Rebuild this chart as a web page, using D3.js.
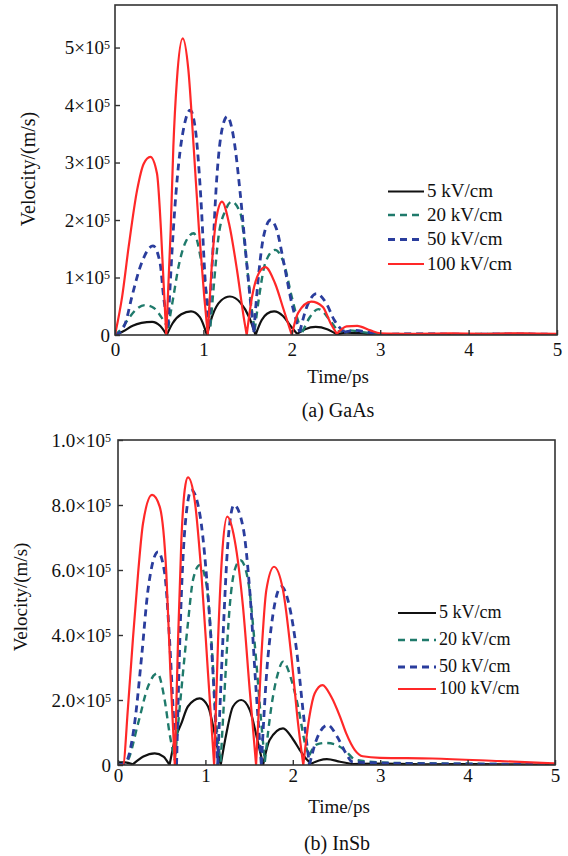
<!DOCTYPE html>
<html>
<head>
<meta charset="utf-8">
<script src="https://cdn.jsdelivr.net/npm/d3@7"></script>
<style>
  html, body { margin: 0; padding: 0; background: #fff; }
  svg { display: block; font-family: "Liberation Serif", "Times New Roman", serif; }
</style>
</head>
<body>
<svg id="fig" width="568" height="856"></svg>
<script>
// Electron drift velocity (in 10^5 m/s) versus time (ps) for four applied fields.
const fieldLabels = ["5 kV/cm", "20 kV/cm", "50 kV/cm", "100 kV/cm"];
const timeTicks = [0, 1, 2, 3, 4, 5];
const gaasYTicks = [0, 1, 2, 3, 4, 5];
const gaasYLabels = ["0", "1×10", "2×10", "3×10", "4×10", "5×10"];
const insbYTicks = [0, 2, 4, 6, 8, 10];
const insbYLabels = ["0", "2.0×10", "4.0×10", "6.0×10", "8.0×10", "1.0×10"];
const tickExponent = "5";

// GaAs: [time ps, velocity 10^5 m/s]
const gaas5 = [
  [0,0],[0.1,0.07],[0.2,0.16],[0.3,0.21],[0.42,0.23],[0.51,0.16],[0.585,0],
  [0.65,0.2],[0.75,0.36],[0.86,0.41],[0.96,0.31],[1.04,0],
  [1.1,0.33],[1.2,0.6],[1.3,0.67],[1.42,0.56],[1.52,0.3],[1.59,0],
  [1.66,0.26],[1.72,0.37],[1.8,0.41],[1.9,0.33],[1.98,0.17],[2.06,0.02],
  [2.15,0.1],[2.27,0.14],[2.4,0.1],[2.51,0.01],
  [2.62,0.04],[2.78,0.03],[2.95,0.01],[3.3,0.01],[3.7,0],[4.2,0.01],[4.6,0],[5,0.01]
];
const gaas20 = [
  [0,0],[0.08,0.12],[0.16,0.3],[0.25,0.46],[0.34,0.52],[0.44,0.47],[0.52,0.32],[0.6,0.12],
  [0.66,0.66],[0.72,1.2],[0.8,1.62],[0.89,1.77],[0.98,1.25],[1.04,0.66],[1.08,0.15],
  [1.12,0.9],[1.17,1.7],[1.25,2.17],[1.32,2.32],[1.42,2.11],[1.47,1.54],[1.53,0.66],[1.58,0.08],
  [1.63,0.66],[1.7,1.25],[1.81,1.48],[1.91,1.25],[2.0,0.66],[2.07,0.25],[2.12,0.05],
  [2.2,0.3],[2.3,0.45],[2.42,0.28],[2.52,0.06],
  [2.65,0.08],[2.8,0.05],[3.0,0.01],[3.4,0.02],[3.8,0.01],[4.3,0.02],[5,0.01]
];
const gaas50 = [
  [0,0],[0.06,0.05],[0.12,0.22],[0.19,0.66],[0.3,1.25],[0.43,1.55],[0.51,1.25],[0.55,0.66],[0.6,0.15],
  [0.66,1.83],[0.72,2.98],[0.78,3.62],[0.85,3.91],[0.91,3.57],[0.97,2.41],[1.02,0.96],[1.06,0.15],
  [1.1,1.25],[1.15,2.7],[1.21,3.57],[1.27,3.8],[1.34,3.45],[1.42,2.41],[1.49,1.25],[1.55,0.32],[1.57,0.05],
  [1.63,1.13],[1.68,1.71],[1.76,2.0],[1.83,1.83],[1.91,1.25],[2.0,0.55],[2.09,0.05],
  [2.17,0.49],[2.28,0.72],[2.39,0.55],[2.48,0.26],[2.59,0.05],
  [2.72,0.08],[2.85,0.05],[3.0,0.01],[3.5,0.02],[4.0,0.01],[4.5,0.02],[5,0.01]
];
const gaas100 = [
  [0,0],[0.08,0.66],[0.155,1.54],[0.25,2.52],[0.325,2.98],[0.4,3.1],[0.475,2.81],[0.52,1.83],[0.55,0.9],[0.58,0],
  [0.63,1.83],[0.66,3.27],[0.7,4.43],[0.766,5.16],[0.83,4.61],[0.89,3.27],[0.95,1.83],[1.01,0.66],[1.05,0],
  [1.097,1.25],[1.15,2.06],[1.21,2.32],[1.29,1.94],[1.38,1.13],[1.455,0.32],[1.49,0],
  [1.55,0.66],[1.625,1.07],[1.7,1.18],[1.81,0.9],[1.91,0.43],[2.0,0],
  [2.07,0.38],[2.22,0.58],[2.35,0.49],[2.44,0.2],[2.51,0.02],
  [2.62,0.15],[2.74,0.16],[2.89,0.08],[3.0,0.03],[3.4,0.02],[3.8,0.03],[4.2,0.02],[4.6,0.03],[5,0.02]
];

// InSb: [time ps, velocity 10^5 m/s]
const insb5 = [
  [0,0.08],[0.08,0.08],[0.17,0.02],[0.29,0.26],[0.42,0.36],[0.52,0.26],[0.59,0],
  [0.65,0.77],[0.725,1.28],[0.8,1.8],[0.935,2.05],[1.03,1.8],[1.106,0.97],[1.175,0],
  [1.24,0.97],[1.316,1.8],[1.41,2.0],[1.507,1.7],[1.595,0.77],[1.66,0],
  [1.735,0.77],[1.888,1.13],[2.0,0.8],[2.08,0.46],[2.15,0.2],[2.21,0.04],
  [2.3,0.14],[2.39,0.18],[2.54,0.1],[2.68,0.03],[3.0,0.04],[3.5,0.02],[4.0,0.03],[4.5,0.02],[5,0.01]
];
const insb20 = [
  [0,0],[0.1,0.1],[0.23,1.28],[0.343,2.41],[0.45,2.82],[0.534,2.0],[0.59,0.97],[0.65,0.15],
  [0.725,2.31],[0.8,4.36],[0.858,5.69],[0.935,6.15],[1.01,5.59],[1.068,3.85],[1.125,1.28],[1.175,0.1],
  [1.22,2.31],[1.278,4.87],[1.335,6.0],[1.4,6.3],[1.488,5.69],[1.56,3.85],[1.64,1.28],[1.68,0.1],
  [1.755,1.8],[1.83,2.82],[1.888,3.18],[1.984,2.62],[2.06,1.8],[2.15,0.56],[2.19,0.3],
  [2.27,0.63],[2.38,0.68],[2.49,0.63],[2.61,0.42],[2.71,0.17],[3.0,0.08],[3.5,0.05],[4.0,0.04],[4.5,0.03],[5,0.02]
];
const insb50 = [
  [0,0],[0.08,0.05],[0.19,1.28],[0.27,3.33],[0.343,5.38],[0.458,6.56],[0.534,5.9],[0.59,3.85],[0.64,1.28],[0.67,0],
  [0.72,4.87],[0.77,7.43],[0.84,8.46],[0.935,7.74],[1.01,5.9],[1.087,2.82],[1.14,0],
  [1.2,3.85],[1.26,6.92],[1.327,8.0],[1.43,7.33],[1.507,5.38],[1.58,2.31],[1.64,0],
  [1.716,3.33],[1.87,5.49],[1.96,4.9],[2.04,3.6],[2.12,1.6],[2.19,0],
  [2.27,0.77],[2.4,1.23],[2.51,0.86],[2.61,0.35],[2.68,0.1],[3.0,0.06],[3.5,0.04],[4.0,0.03],[4.5,0.02],[5,0.01]
];
const insb100 = [
  [0,0],[0.057,0],[0.115,1.8],[0.17,3.85],[0.23,5.9],[0.286,7.43],[0.39,8.31],[0.477,7.95],[0.553,5.9],[0.6,2.82],[0.65,0],
  [0.687,3.85],[0.725,6.92],[0.763,8.46],[0.8,8.85],[0.877,8.15],[0.954,5.9],[1.03,2.82],[1.1,0],
  [1.145,3.85],[1.19,6.41],[1.25,7.64],[1.335,6.92],[1.43,4.87],[1.507,2.31],[1.58,0],
  [1.64,3.33],[1.697,5.38],[1.785,6.1],[1.888,5.38],[1.984,3.33],[2.06,1.28],[2.12,0],
  [2.19,1.49],[2.25,2.2],[2.34,2.46],[2.44,2.1],[2.54,1.49],[2.61,0.98],[2.71,0.46],[2.8,0.27],
  [3.0,0.22],[3.6,0.2],[4.37,0.12],[5,0.05]
];

// line styles per field strength
const colors = ["#111111", "#1f7a6b", "#2a3d9d", "#ff2828"];
const widths = [2.2, 2.4, 2.8, 2.2];
const dashes = [null, "7,5", "7,5", null];
const FONT = 19;

const svg = d3.select("#fig");

// Each velocity trace is a train of arches meeting at sharp minima,
// so the trace is broken at its local minima and each arch is smoothed alone.
function splitAtMinima(pts) {
  const segs = [];
  let cur = [pts[0]];
  for (let i = 1; i < pts.length; i++) {
    cur.push(pts[i]);
    if (i < pts.length - 1 && pts[i][1] < pts[i - 1][1] && pts[i][1] < pts[i + 1][1]) {
      segs.push(cur);
      cur = [pts[i]];
    }
  }
  segs.push(cur);
  return segs;
}

function drawPanel(cfg) {
  const x = d3.scaleLinear().domain([0, 5]).range([cfg.left, cfg.right]);
  const y = d3.scaleLinear().domain([0, cfg.yMax]).range([cfg.bottom, cfg.top]);
  const g = svg.append("g");

  g.append("clipPath").attr("id", cfg.id + "-clip")
    .append("rect")
    .attr("x", cfg.left).attr("y", cfg.top)
    .attr("width", cfg.right - cfg.left).attr("height", cfg.bottom - cfg.top);

  const line = d3.line()
    .x(d => x(d[0]))
    .y(d => y(d[1]))
    .curve(d3.curveMonotoneX);

  const curves = g.append("g").attr("clip-path", `url(#${cfg.id}-clip)`);
  cfg.series.forEach((s, i) => {
    const d = splitAtMinima(s).map(seg => line(seg)).join("");
    curves.append("path")
      .attr("d", d)
      .attr("fill", "none")
      .attr("stroke", colors[i])
      .attr("stroke-width", widths[i])
      .attr("stroke-dasharray", dashes[i])
      .attr("stroke-linejoin", "round");
  });

  // x axis
  const xa = g.append("g")
    .attr("transform", `translate(0,${cfg.bottom})`)
    .call(d3.axisBottom(x).tickValues(timeTicks).tickSize(-5).tickPadding(cfg.xPad).tickFormat(d3.format("d")));
  // y axis
  const ya = g.append("g")
    .attr("transform", `translate(${cfg.left},0)`)
    .call(d3.axisLeft(y).tickValues(cfg.yTicks).tickSize(-5).tickPadding(cfg.yPad)
      .tickFormat((d, i) => cfg.yLabels[i]));
  ya.selectAll(".tick text").each(function (d, i) {
    if (cfg.yLabels[i] !== "0") {
      d3.select(this).append("tspan")
        .attr("dy", "-0.42em")
        .attr("font-size", "12px")
        .text(tickExponent);
    }
  });
  [xa, ya].forEach(a => {
    a.select(".domain").remove();
    a.selectAll(".tick line").attr("stroke", "#333").attr("stroke-width", 1.4);
    a.selectAll(".tick text")
      .attr("fill", "#111")
      .attr("font-size", FONT + "px")
      .attr("font-family", "Liberation Serif, Times New Roman, serif");
  });

  // frame
  g.append("rect")
    .attr("x", cfg.left).attr("y", cfg.top)
    .attr("width", cfg.right - cfg.left).attr("height", cfg.bottom - cfg.top)
    .attr("fill", "none").attr("stroke", "#333").attr("stroke-width", 1.6);

  // axis titles and caption
  g.append("text")
    .attr("transform", `translate(${cfg.yTitleX},${cfg.yTitleY}) rotate(-90)`)
    .attr("text-anchor", "middle")
    .attr("font-size", cfg.yTitleSize + "px")
    .attr("fill", "#111")
    .text("Velocity/(m/s)");
  g.append("text")
    .attr("x", cfg.xTitleX).attr("y", cfg.xTitleY)
    .attr("text-anchor", "middle")
    .attr("font-size", FONT + "px")
    .attr("fill", "#111")
    .text("Time/ps");
  g.append("text")
    .attr("x", cfg.capX).attr("y", cfg.capY)
    .attr("text-anchor", "middle")
    .attr("font-size", "20px")
    .attr("fill", "#111")
    .text(cfg.caption);

  // legend
  const lg = g.append("g");
  fieldLabels.forEach((lab, i) => {
    const ly = cfg.legendY[i];
    lg.append("line")
      .attr("x1", cfg.legendX1).attr("x2", cfg.legendX2)
      .attr("y1", ly).attr("y2", ly)
      .attr("stroke", colors[i])
      .attr("stroke-width", widths[i])
      .attr("stroke-dasharray", dashes[i]);
    lg.append("text")
      .attr("x", cfg.legendX2 + 3).attr("y", ly)
      .attr("dy", "0.3em")
      .attr("font-size", cfg.legendSize + "px")
      .attr("fill", "#111")
      .text(lab);
  });
}

drawPanel({
  id: "gaas", series: [gaas5, gaas20, gaas50, gaas100],
  left: 115, right: 557, top: 5, bottom: 335, yMax: 5.74,
  yTicks: gaasYTicks, yLabels: gaasYLabels, xPad: 7.5, yPad: 5,
  yTitleX: 35, yTitleY: 169, yTitleSize: 20,
  xTitleX: 338, xTitleY: 383, capX: 338, capY: 417, caption: "(a) GaAs",
  legendX1: 388, legendX2: 424, legendY: [191.5, 215, 239.5, 264], legendSize: 19
});

drawPanel({
  id: "insb", series: [insb5, insb20, insb50, insb100],
  left: 118, right: 555, top: 440, bottom: 765, yMax: 10,
  yTicks: insbYTicks, yLabels: insbYLabels, xPad: 3, yPad: 7,
  yTitleX: 27, yTitleY: 597, yTitleSize: 19,
  xTitleX: 339, xTitleY: 813, capX: 337, capY: 850, caption: "(b) InSb",
  legendX1: 398, legendX2: 436, legendY: [613, 640, 667, 689], legendSize: 18
});
</script>
</body>
</html>
